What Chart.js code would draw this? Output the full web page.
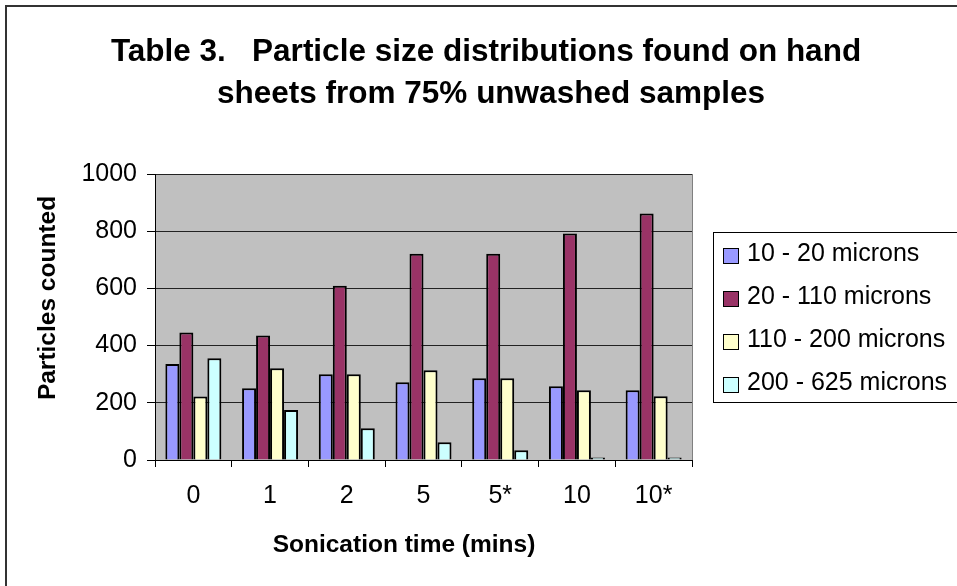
<!DOCTYPE html>
<html>
<head>
<meta charset="utf-8">
<script src="https://cdn.jsdelivr.net/npm/chart.js@4.4.1/dist/chart.umd.min.js"></script>
<style>
  html, body { margin:0; padding:0; background:#fff; }
  #wrap { position:relative; width:957px; height:586px; }
</style>
</head>
<body>
<div id="wrap"><canvas id="grafico" width="957" height="586"></canvas></div>
<script>
// --- Datos ---
const categorias = ['0', '1', '2', '5', '5*', '10', '10*'];
const nombresSerie = ['10 - 20 microns', '20 - 110 microns', '110 - 200 microns', '200 - 625 microns'];
const s10_20   = [336, 251, 300, 272, 286, 258, 244];
const s20_110  = [446, 435, 609, 721, 721, 792, 862];
const s110_200 = [222, 321, 300, 314, 286, 244, 223];
const s200_625 = [356, 175, 111,  62,  34,   9,   9];
const yTicks = [0, 200, 400, 600, 800, 1000];
const colores = ['#9999FF', '#993366', '#FFFFCC', '#CCFFFF'];

const tituloLineas = ['Table 3.   Particle size distributions found on hand', 'sheets from 75% unwashed samples'];
const tituloX = 'Sonication time (mins)';
const tituloY = 'Particles counted';

const FUENTE = '"Liberation Sans", Arial, sans-serif';

// --- Fondo, marco, titulos y leyenda ---
const decorado = {
  id: 'decorado',
  beforeDraw(chart) {
    const { ctx, chartArea: a } = chart;
    ctx.save();
    ctx.fillStyle = '#fff';
    ctx.fillRect(0, 0, chart.width, chart.height);
    // marco exterior
    ctx.strokeStyle = '#333';
    ctx.lineWidth = 2;
    ctx.beginPath();
    ctx.moveTo(6, chart.height + 5);
    ctx.lineTo(6, 6);
    ctx.lineTo(chart.width + 5, 6);
    ctx.stroke();
    // area de trazado
    ctx.fillStyle = '#C0C0C0';
    ctx.fillRect(a.left, a.top, a.right - a.left, a.bottom - a.top);
    ctx.strokeStyle = '#808080';
    ctx.lineWidth = 1;
    ctx.beginPath();
    ctx.moveTo(Math.round(a.right) + 0.5, a.top);
    ctx.lineTo(Math.round(a.right) + 0.5, a.bottom);
    ctx.stroke();
    ctx.restore();
  },
  afterDraw(chart) {
    const { ctx } = chart;
    ctx.save();
    ctx.fillStyle = '#000';
    ctx.textAlign = 'center';
    ctx.textBaseline = 'alphabetic';
    ctx.font = 'bold 31.5px ' + FUENTE;
    ctx.fillText(tituloLineas[0], 486, 61);
    ctx.fillText(tituloLineas[1], 491, 103);

    ctx.font = 'bold 24.5px ' + FUENTE;
    ctx.fillText(tituloX, 404, 552);
    ctx.save();
    ctx.translate(55, 298);
    ctx.rotate(-Math.PI / 2);
    ctx.fillText(tituloY, 0, 0);
    ctx.restore();

    // leyenda
    ctx.strokeStyle = '#000';
    ctx.lineWidth = 1;
    ctx.strokeRect(713.5, 232.5, 260, 170);
    ctx.font = '25px ' + FUENTE;
    ctx.textAlign = 'left';
    ctx.textBaseline = 'middle';
    chart.data.datasets.forEach((ds, i) => {
      const yc = 254 + i * 43;
      ctx.fillStyle = ds.backgroundColor;
      ctx.fillRect(723, yc - 6, 15, 15);
      ctx.strokeRect(723.5, yc - 5.5, 15, 15);
      ctx.fillStyle = '#000';
      ctx.fillText(ds.label, 747, yc);
    });
    ctx.restore();
  }
};

const series = [s10_20, s20_110, s110_200, s200_625];

new Chart(document.getElementById('grafico'), {
  type: 'bar',
  data: {
    labels: categorias,
    datasets: series.map((d, i) => ({
      label: nombresSerie[i],
      data: d,
      backgroundColor: colores[i],
      borderColor: '#000',
      borderWidth: 2,
      categoryPercentage: 0.73,
      barPercentage: 1
    }))
  },
  options: {
    responsive: false,
    animation: false,
    events: [],
    layout: { padding: { left: 10, right: 265, top: 174, bottom: 0 } },
    plugins: {
      legend: { display: false },
      title: { display: false },
      tooltip: { enabled: false }
    },
    scales: {
      x: {
        afterFit: s => { s.height = 126; },
        grid: { offset: true, drawOnChartArea: false, drawTicks: true, tickLength: 7, tickColor: '#000', lineWidth: 1 },
        border: { color: '#000', width: 1 },
        ticks: { color: '#000', font: { family: FUENTE, size: 25 }, padding: 14, maxRotation: 0 }
      },
      y: {
        min: 0, max: 1000,
        afterFit: s => { s.width = 145; },
        afterBuildTicks: s => { s.ticks = yTicks.map(v => ({ value: v })); },
        grid: { color: '#222', lineWidth: 1, tickLength: 8, tickColor: '#000' },
        border: { color: '#000', width: 1 },
        ticks: { color: '#000', font: { family: FUENTE, size: 25 }, padding: 10, callback: v => String(v) }
      }
    }
  },
  plugins: [decorado]
});
</script>
</body>
</html>
